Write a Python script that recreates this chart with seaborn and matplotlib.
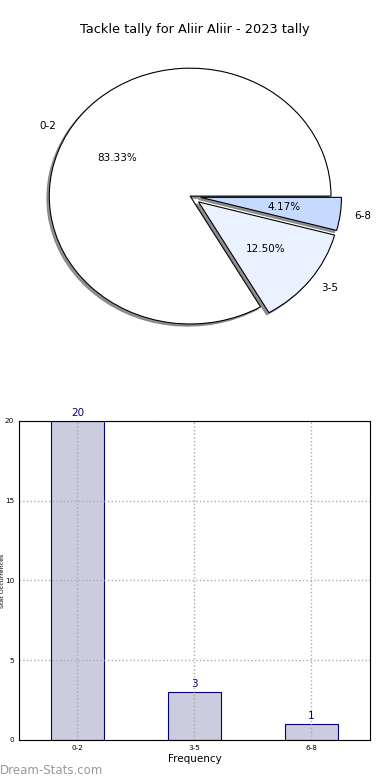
import matplotlib
matplotlib.use("Agg")
import matplotlib.pyplot as plt
import seaborn as sns

# data
categories = ["0-2", "3-5", "6-8"]
counts = [20, 3, 1]
pie_colors = ["#ffffff", "#ebf2ff", "#c6d9ff"]
explode = [0.0, 0.075, 0.075]

sns.set_style("white")
plt.rcParams["font.family"] = ["DejaVu Sans"]
plt.rcParams["text.color"] = "black"
plt.rcParams["axes.labelcolor"] = "black"
plt.rcParams["xtick.color"] = "black"
plt.rcParams["ytick.color"] = "black"

fig = plt.figure(figsize=(3.9, 7.8), dpi=100)

# --- Pie ---
ax_pie = fig.add_axes([0.036, 0.5436, 0.903, 0.41])
wedges, texts, autotexts = ax_pie.pie(
    counts,
    labels=categories,
    colors=pie_colors,
    explode=explode,
    autopct="%.2f%%",
    shadow={"ox": -0.012, "oy": -0.012, "color": "#777777", "alpha": 0.8},
    startangle=0,
    counterclock=True,
    wedgeprops={"linewidth": 0.8, "edgecolor": "black"},
    textprops={"fontsize": 7.5, "color": "black"},
)
ax_pie.set_aspect("auto")
ax_pie.set_xlim(-1.25, 1.25)
ax_pie.set_ylim(-1.25, 1.25)
fig.text(0.5, 1 - 30 / 780, "Tackle tally for Aliir Aliir - 2023 tally",
         ha="center", va="center", fontsize=9.3, color="black")

# --- Bars ---
ax_bar = fig.add_axes([0.0487, 0.0513, 0.9, 0.409])
sns.barplot(x=categories, y=counts, ax=ax_bar, width=0.45,
            color="#ccccdf", edgecolor="navy", linewidth=0.8, saturation=1)
ax_bar.set_xlim(-0.5, 2.5)
ax_bar.set_ylim(0, 20)
ax_bar.set_yticks([0, 5, 10, 15, 20])
ax_bar.tick_params(labelsize=5.2, length=2, pad=1.5)
ax_bar.grid(True, linestyle=":", color="#aaaaaa", linewidth=1)
ax_bar.set_axisbelow(False)
for spine in ax_bar.spines.values():
    spine.set_color("black")
    spine.set_linewidth(0.8)
    spine.set_zorder(5)
for i, v in enumerate(counts):
    ax_bar.text(i, v + 0.2, str(v), ha="center", va="bottom",
                color="navy", fontsize=7.5)
ax_bar.set_xlabel("Frequency", fontsize=7.5, labelpad=2)
ax_bar.set_ylabel("Stat Occurrences", fontsize=4.5)
ax_bar.yaxis.set_label_coords((5.0 - 19) / 351, 0.5)

fig.text(0.0, 1 - 771 / 780, "Dream-Stats.com", ha="left", va="center",
         fontsize=8.5, color="#999999")

fig.savefig("out.png", dpi=100)
